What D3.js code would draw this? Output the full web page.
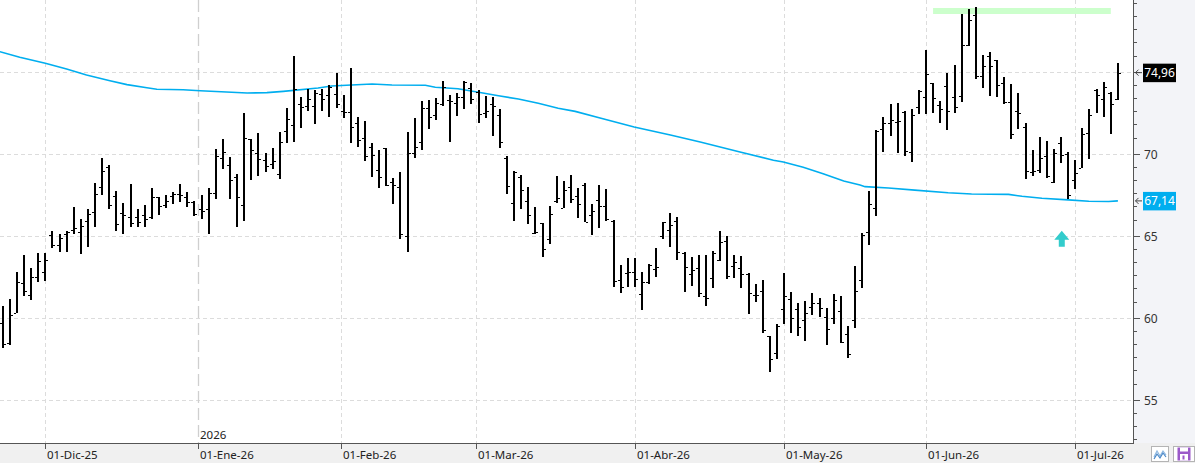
<!DOCTYPE html>
<html><head><meta charset="utf-8">
<script src="https://cdn.jsdelivr.net/npm/d3@7"></script>
<style>
html,body{margin:0;padding:0;background:#fff;overflow:hidden;}
svg{display:block;font-family:"Noto Sans","Segoe UI",sans-serif;}
</style></head><body>
<svg id="c" width="1195" height="463"></svg>
<script>
// ---- data ----
const openV = [59.67,58.45,60.32,62.11,61.38,62.48,62.80,65.04,64.43,65.12,65.34,65.22,65.89,66.48,67.97,69.23,67.44,66.40,66.16,66.16,66.28,66.14,67.40,66.87,67.42,67.54,67.38,67.09,66.62,66.62,67.60,69.73,69.31,68.60,66.87,70.89,70.04,69.61,69.37,68.76,71.40,71.75,73.05,72.91,72.91,73.64,73.58,73.64,72.60,72.54,71.87,70.95,70.41,69.04,70.34,68.27,68.01,65.00,70.04,70.73,72.78,72.36,73.07,73.30,73.13,73.47,74.00,73.76,72.52,73.05,72.36,69.78,66.99,68.62,67.13,65.20,65.79,64.82,67.11,66.70,67.99,67.41,68.11,66.28,67.17,66.80,65.89,62.31,62.72,62.78,61.44,62.17,63.00,64.98,65.34,65.89,63.98,62.66,63.02,61.34,62.43,63.51,64.71,63.17,63.02,62.68,61.40,61.64,58.90,57.84,60.52,61.13,60.52,59.85,60.70,60.91,60.04,60.02,60.42,59.02,59.87,62.30,65.24,66.69,71.50,71.87,71.95,72.56,70.10,72.85,73.46,74.31,72.99,74.12,73.46,73.54,76.65,78.48,74.76,75.96,75.71,74.33,73.17,72.60,71.63,68.88,69.02,69.88,68.29,70.65,70.02,68.41,69.13,71.26,73.90,73.35,73.70,73.35];
const highV = [60.73,61.16,62.82,63.84,63.03,63.96,63.96,65.30,65.12,65.30,66.77,66.03,66.64,68.23,69.75,69.31,67.74,67.01,68.17,66.64,66.89,67.93,67.40,67.50,67.68,68.17,67.68,67.13,67.50,67.93,70.30,70.91,69.82,68.78,72.52,70.91,71.28,70.06,70.34,71.34,72.80,75.97,73.47,73.94,73.90,73.94,74.23,74.94,73.60,75.26,72.25,72.01,70.67,70.22,70.34,68.56,68.90,71.34,72.19,73.23,73.29,73.39,74.45,73.60,73.72,74.43,74.33,73.88,73.53,73.47,72.74,69.88,68.96,68.72,68.01,66.77,65.81,66.85,68.64,68.37,68.72,67.92,68.23,66.97,68.11,67.86,65.97,63.23,63.63,63.65,62.78,63.27,64.26,65.87,66.42,66.15,64.02,63.72,63.84,63.84,64.08,65.30,64.99,63.84,63.76,62.72,62.07,62.31,58.90,59.61,62.72,61.58,60.91,61.03,61.52,61.20,60.59,61.44,61.34,59.51,63.17,65.16,67.76,71.46,72.26,73.05,73.11,72.62,72.74,73.90,76.34,74.33,73.23,74.94,75.43,78.54,78.84,78.94,76.04,76.20,75.71,74.70,74.27,73.72,71.87,70.24,71.06,70.79,70.30,71.04,70.10,69.63,71.61,72.76,73.96,74.39,73.78,75.55];
const lowV = [58.19,58.35,60.32,61.36,61.12,62.17,62.27,64.29,64.04,64.04,65.14,63.92,64.35,65.57,67.52,66.62,65.32,65.14,65.57,65.57,65.57,66.06,66.30,66.71,66.97,67.09,66.79,66.24,66.06,65.14,67.27,69.10,67.27,65.57,65.93,68.43,68.68,68.92,69.06,68.49,70.69,70.75,71.60,72.64,71.85,72.64,72.27,72.82,72.21,70.69,70.45,69.59,68.62,67.95,68.07,66.97,64.84,64.04,69.77,70.22,71.52,72.05,72.93,70.75,72.34,72.74,73.05,71.91,72.19,71.12,70.39,67.56,65.93,66.67,65.75,65.14,63.72,64.53,66.99,66.69,67.03,66.11,65.87,65.06,65.50,65.91,61.91,61.54,61.91,61.91,60.50,62.09,62.50,64.83,64.32,63.55,61.60,61.95,61.30,60.75,61.85,63.49,62.35,62.46,61.85,60.26,60.99,59.06,56.68,57.52,59.65,59.10,58.90,58.61,60.16,60.06,58.37,59.61,58.49,57.58,59.41,61.80,64.45,66.24,70.14,71.08,70.08,69.90,69.53,72.46,72.46,72.52,71.91,71.48,72.50,73.19,76.56,74.59,74.02,73.56,73.50,73.03,70.89,71.54,68.50,68.68,68.82,68.56,68.25,69.43,67.28,67.89,69.13,69.71,72.48,72.28,71.22,73.27];
const closeV = [58.39,60.16,62.17,61.62,62.48,63.45,63.52,64.43,64.86,65.24,65.47,65.59,66.34,67.54,68.94,66.91,65.73,66.30,65.77,65.85,66.01,67.38,66.83,67.11,67.54,67.52,67.05,66.32,66.50,67.60,69.86,70.10,68.39,67.38,70.95,70.24,69.67,69.25,69.55,70.73,72.11,73.94,72.84,73.33,73.70,73.33,74.06,73.05,72.54,71.62,70.85,69.86,69.94,68.62,68.13,68.11,65.14,70.04,70.41,72.82,72.25,73.09,74.06,73.25,73.45,74.39,73.37,72.44,72.60,72.93,70.73,68.03,68.90,67.80,66.28,65.24,64.21,66.34,67.32,67.80,67.23,66.95,65.87,66.54,66.80,66.03,62.23,61.87,62.78,62.37,62.17,63.23,63.10,65.83,65.65,64.02,63.09,62.92,61.50,61.22,63.94,64.63,62.56,63.41,62.66,61.50,61.38,59.24,57.48,59.53,61.34,59.98,59.45,60.28,60.89,60.63,59.31,61.09,58.51,57.78,61.62,65.06,66.93,71.42,71.87,72.05,72.00,70.20,72.36,73.82,74.86,73.39,72.74,72.62,72.87,76.65,78.15,74.76,75.37,75.35,74.19,73.17,71.20,72.48,68.98,68.94,69.76,68.64,70.06,69.94,67.50,68.84,71.20,72.38,73.58,74.06,73.03,74.96];

// moving average (read at sampled bar positions)
const maIndex = [-0.38,2.4,6,9,11.8,15.1,17.5,20.3,21.7,25.4,27.8,31.5,34.4,37.2,39.5,44.4,46.3,49.1,52,54.8,59.5,60.9,64.1,67,69.8,72.6,75.4,78.2,80.6,84.1,88.9,94,98.2,103.8,108.5,109.9,112.7,115.5,118.4,120.7,121.4,124.7,128.4,133.1,136.4,141.6,143.5,146.3,150,152.9,155.7,157];
const maValue = [76.24,75.90,75.53,75.18,74.82,74.47,74.23,74.04,73.95,73.92,73.86,73.78,73.72,73.74,73.82,74.02,74.15,74.21,74.27,74.21,74.19,74.07,73.98,73.76,73.55,73.35,73.09,72.79,72.60,72.19,71.65,71.16,70.73,70.12,69.62,69.51,69.19,68.80,68.35,68.11,68.01,67.93,67.80,67.64,67.56,67.54,67.42,67.30,67.20,67.12,67.10,67.14];

const monthTickIndex = [6,27.5,47.67,66.67,89,110,130,151];
const monthTickLabels = ["01-Dic-25","01-Ene-26","01-Feb-26","01-Mar-26","01-Abr-26","01-May-26","01-Jun-26","01-Jul-26"];
const yearMarkIndex = 27.5, yearLabel = "2026";
const yTickValues = [55,60,65,70,75];
const yTickLabels = ["55","60","65","70",""];
const lastPrice = 74.96, lastPriceLabel = "74,96";
const maLast = 67.14, maLastLabel = "67,14";
const resistanceLevel = 78.72, resistanceFrom = 130.98, resistanceTo = 156.0;
const signalIndex = 149.1, signalValue = 65.32;

// ---- layout ----
const W = 1195, H = 463, plotR = 1133, axisY = 443;
const svg = d3.select("#c");
const x = d3.scaleLinear().domain([0,157]).range([2.68,1117.9]);
const y = d3.scaleLinear().domain([55,75]).range([400,72]);

svg.append("rect").attr("x",0).attr("y",0).attr("width",W).attr("height",H).attr("fill","#fff");
svg.append("rect").attr("x",plotR).attr("y",0).attr("width",W-plotR).attr("height",axisY).attr("fill","#f3f4f8");
svg.append("rect").attr("x",0).attr("y",axisY).attr("width",W).attr("height",H-axisY).attr("fill","#f0f0f0");

svg.append("defs").append("clipPath").attr("id","plot").append("rect")
  .attr("x",0).attr("y",0).attr("width",plotR).attr("height",axisY);

const g = svg.append("g").attr("clip-path","url(#plot)");

// grid
g.selectAll(".hg").data(yTickValues).join("line")
  .attr("x1",0).attr("x2",plotR)
  .attr("y1",d=>Math.round(y(d))+0.5).attr("y2",d=>Math.round(y(d))+0.5)
  .attr("stroke","#dcdcdc").attr("stroke-dasharray","4,3");
g.selectAll(".vg").data(monthTickIndex.filter(d=>d!==yearMarkIndex)).join("line")
  .attr("x1",d=>Math.round(x(d))+0.5).attr("x2",d=>Math.round(x(d))+0.5)
  .attr("y1",0).attr("y2",axisY)
  .attr("stroke","#dcdcdc").attr("stroke-dasharray","4,3");
g.append("line")
  .attr("x1",Math.round(x(yearMarkIndex))+0.5).attr("x2",Math.round(x(yearMarkIndex))+0.5)
  .attr("y1",0).attr("y2",axisY)
  .attr("stroke","#cfcfcf").attr("stroke-width",1.3).attr("stroke-dasharray","12,5");

// resistance band
g.append("rect")
  .attr("x",x(resistanceFrom)).attr("width",x(resistanceTo)-x(resistanceFrom))
  .attr("y",y(resistanceLevel)-3).attr("height",6)
  .attr("fill","#ccffcc");

// moving average
const maPts = maIndex.map((d,i)=>[d,maValue[i]]);
g.append("path").datum(maPts)
  .attr("d",d3.line().x(d=>x(d[0])).y(d=>y(d[1])))
  .attr("fill","none").attr("stroke","#00aeef").attr("stroke-width",1.6);

// OHLC bars
const bars = openV.map((o,i)=>({i,o,h:highV[i],l:lowV[i],c:closeV[i]}));
const bg = g.append("g").attr("fill","#000").attr("shape-rendering","crispEdges");
bg.selectAll(".v").data(bars).join("rect")
  .attr("x",d=>Math.round(x(d.i))-1).attr("width",2)
  .attr("y",d=>y(d.h)).attr("height",d=>Math.max(1,y(d.l)-y(d.h)));
bg.selectAll(".o").data(bars).join("rect")
  .attr("x",d=>Math.round(x(d.i))-3).attr("width",2)
  .attr("y",d=>Math.round(y(d.o))).attr("height",1);
bg.selectAll(".cl").data(bars).join("rect")
  .attr("x",d=>Math.round(x(d.i))+1).attr("width",2)
  .attr("y",d=>Math.round(y(d.c))).attr("height",1);

// signal arrow
{
  const cx = x(signalIndex), ty = y(signalValue);
  g.append("path")
    .attr("d",`M${cx},${ty} L${cx+7.5},${ty+9} L${cx+3},${ty+9} L${cx+3},${ty+16} L${cx-3},${ty+16} L${cx-3},${ty+9} L${cx-7.5},${ty+9} Z`)
    .attr("fill","#33cccc");
}

// right axis
const ax = svg.append("g");
ax.append("line").attr("x1",plotR+0.5).attr("x2",plotR+0.5).attr("y1",0).attr("y2",axisY)
  .attr("stroke","#555");
const minor = [];
[55,60,65,70,75,80].forEach(M=>{for(let k=1;k<=5;k++){const v=+(M-0.8*k).toFixed(1); if(y(v)>1 && y(v)<axisY-2) minor.push(v);}});
ax.selectAll(".mn").data(minor).join("line")
  .attr("x1",plotR).attr("x2",plotR+4)
  .attr("y1",d=>Math.round(y(d))+0.5).attr("y2",d=>Math.round(y(d))+0.5)
  .attr("stroke","#555");
ax.selectAll(".mj").data(yTickValues).join("line")
  .attr("x1",plotR).attr("x2",plotR+7)
  .attr("y1",d=>Math.round(y(d))+0.5).attr("y2",d=>Math.round(y(d))+0.5)
  .attr("stroke","#555");
ax.selectAll(".ml").data(yTickValues).join("text")
  .attr("x",plotR+11).attr("y",d=>y(d)+4.5)
  .attr("font-size","12px").attr("fill","#333")
  .text((d,i)=>yTickLabels[i]);

// price boxes
function priceBox(v,label,fill){
  const yy = y(v);
  ax.append("path")
    .attr("d",`M${plotR+9},${yy} L${plotR+2.5},${yy} M${plotR+5.5},${yy-3} L${plotR+2.5},${yy} L${plotR+5.5},${yy+3}`)
    .attr("stroke","#444").attr("fill","none").attr("stroke-width",1);
  ax.append("rect").attr("x",plotR+10).attr("y",yy-9).attr("width",33).attr("height",18.5).attr("fill",fill);
  ax.append("text").attr("x",plotR+26.5).attr("y",yy+4.5).attr("text-anchor","middle")
    .attr("font-size","12px").attr("fill","#fff").text(label);
}
priceBox(lastPrice,lastPriceLabel,"#000");
priceBox(maLast,maLastLabel,"#00aeef");

// bottom axis
const bx = svg.append("g");
bx.append("line").attr("x1",0).attr("x2",plotR+1).attr("y1",axisY+0.5).attr("y2",axisY+0.5).attr("stroke","#555");
bx.selectAll(".t").data(monthTickIndex).join("line")
  .attr("x1",d=>Math.round(x(d))+0.5).attr("x2",d=>Math.round(x(d))+0.5)
  .attr("y1",axisY).attr("y2",axisY+6).attr("stroke","#555");
bx.selectAll(".tl").data(monthTickIndex).join("text")
  .attr("x",d=>Math.round(x(d))+2).attr("y",459)
  .attr("font-size","11.5px").attr("fill","#222")
  .text((d,i)=>monthTickLabels[i]);
bx.append("text").attr("x",Math.round(x(yearMarkIndex))+2).attr("y",438.5)
  .attr("font-size","11.5px").attr("fill","#222").text(yearLabel);

// toolbar icons (bottom right)
const ic = svg.append("g");
ic.append("rect").attr("x",1151.5).attr("y",446.5).attr("width",17).attr("height",15).attr("fill","#fff").attr("stroke","#b4b4b4");
ic.append("polyline").attr("points","1154,457 1157,451 1160,456 1163,451 1166,455").attr("fill","none").attr("stroke","#8fb8e0").attr("stroke-width",1.2);
ic.append("polyline").attr("points","1154,459 1157,454 1160,458 1163,453 1166,457").attr("fill","none").attr("stroke","#4a88c8").attr("stroke-width",1.2);
ic.append("rect").attr("x",1173.5).attr("y",446.5).attr("width",21).attr("height",15).attr("fill","#fff").attr("stroke","#b4b4b4");
ic.append("rect").attr("x",1177.5).attr("y",447.5).attr("width",13).attr("height",13).attr("fill","#9b59c9");
ic.append("rect").attr("x",1180).attr("y",447.5).attr("width",8).attr("height",4).attr("fill","#fff");
ic.append("rect").attr("x",1180).attr("y",454).attr("width",8).attr("height",6.5).attr("fill","#fff");
ic.append("rect").attr("x",1182.5).attr("y",455.5).attr("width",2).attr("height",4).attr("fill","#9b59c9");
</script>
</body></html>
